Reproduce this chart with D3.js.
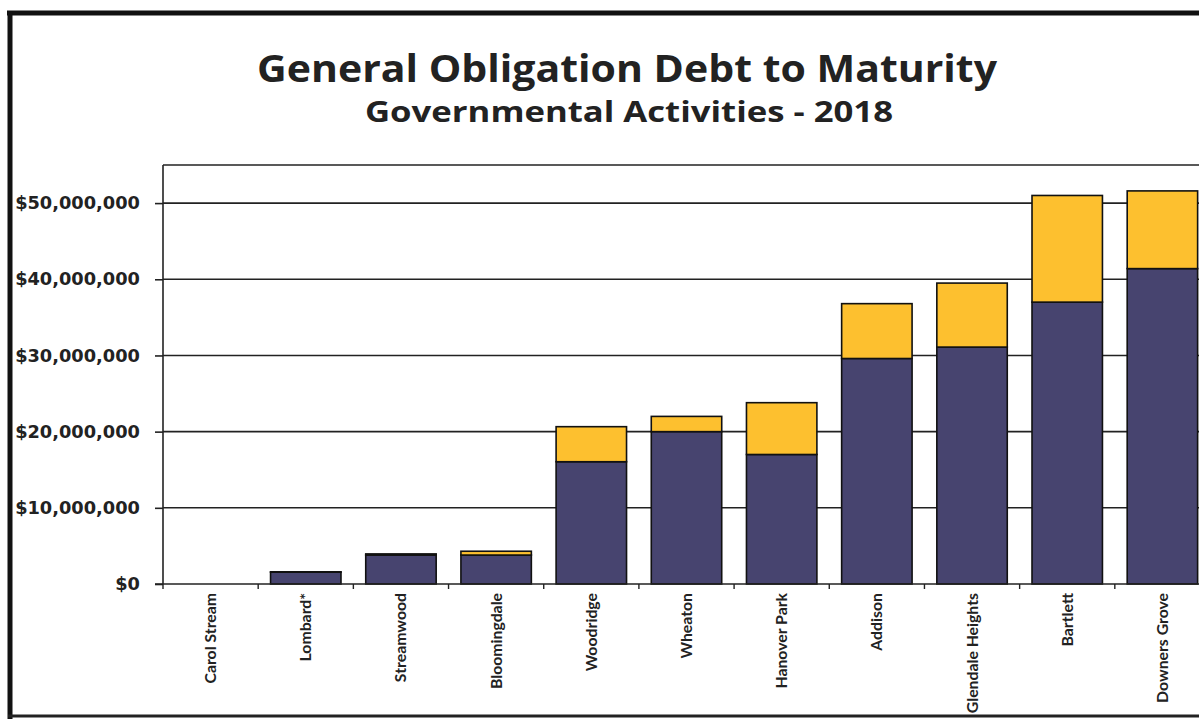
<!DOCTYPE html>
<html>
<head>
<meta charset="utf-8">
<script src="https://cdn.jsdelivr.net/npm/d3@7"></script>
<style>
  html, body { margin: 0; padding: 0; background: #fff; }
  svg { display: block; }
</style>
</head>
<body>
<svg id="chart" width="1199" height="719"></svg>
<script>
// ---- data (values in dollars) ----
const categories = ["Carol Stream", "Lombard*", "Streamwood", "Bloomingdale", "Woodridge", "Wheaton",
                    "Hanover Park", "Addison", "Glendale Heights", "Bartlett", "Downers Grove"];
const principal = [0, 1550000, 3800000, 3800000, 16050000, 20000000, 17000000, 29600000, 31100000, 37000000, 41400000];
const interest  = [0, 50000, 150000, 500000, 4600000, 2000000, 6800000, 7200000, 8400000, 14000000, 10200000];
const yTicks = [0, 10000000, 20000000, 30000000, 40000000, 50000000];
const seriesNames = ["principal", "interest"];
const seriesColors = ["#47446f", "#fdc02f"];
const titleText = "General Obligation Debt to Maturity";
const subtitleText = "Governmental Activities - 2018";

(function () {
const svg = d3.select("#chart");
const W = 1199, H = 719;

// outer frame
svg.append("line").attr("x1", 7).attr("x2", W).attr("y1", 13).attr("y2", 13)
  .attr("stroke", "#111").attr("stroke-width", 5);
svg.append("line").attr("x1", 10).attr("x2", 10).attr("y1", 11).attr("y2", H)
  .attr("stroke", "#111").attr("stroke-width", 5);
svg.append("line").attr("x1", 8).attr("x2", W).attr("y1", 716).attr("y2", 716)
  .attr("stroke", "#222").attr("stroke-width", 3);

// titles
svg.append("text").attr("x", 627).attr("y", 82).attr("text-anchor", "middle")
  .attr("font-family", "Open Sans, sans-serif").attr("font-weight", "bold").attr("font-size", 38)
  .attr("fill", "#222").attr("textLength", 740).attr("lengthAdjust", "spacingAndGlyphs")
  .text(titleText);
svg.append("text").attr("x", 629).attr("y", 122).attr("text-anchor", "middle")
  .attr("font-family", "Open Sans, sans-serif").attr("font-weight", "bold").attr("font-size", 29)
  .attr("fill", "#222").attr("textLength", 528).attr("lengthAdjust", "spacingAndGlyphs")
  .text(subtitleText);

// scales
const pLeft = 163, pRight = 1210, pTop = 165, pBottom = 584;
const x = d3.scaleBand().domain(categories).range([pLeft, pRight]).paddingInner(0.26).paddingOuter(0.13);
const y = d3.scaleLinear().domain([0, 55000000]).range([pBottom, pTop]);

// gridlines
const g = svg.append("g");
g.selectAll("line.grid").data(yTicks.filter(d => d > 0)).join("line")
  .attr("class", "grid")
  .attr("x1", pLeft).attr("x2", W).attr("y1", d => y(d)).attr("y2", d => y(d))
  .attr("stroke", "#222").attr("stroke-width", 1.6);
// plot top border
g.append("line").attr("x1", pLeft).attr("x2", W).attr("y1", pTop).attr("y2", pTop)
  .attr("stroke", "#222").attr("stroke-width", 1.6);

// stacked bars
const rows = categories.map((c, i) => ({ cat: c, principal: principal[i], interest: interest[i] }));
const stack = d3.stack().keys(seriesNames)(rows);
stack.forEach((layer, li) => {
  g.append("g").selectAll("rect").data(layer).join("rect")
    .attr("x", d => x(d.data.cat))
    .attr("width", x.bandwidth())
    .attr("y", d => y(d[1]))
    .attr("height", d => Math.max(0, y(d[0]) - y(d[1])))
    .attr("fill", seriesColors[li])
    .attr("stroke", d => (d[1] - d[0]) > 0 ? "#111" : "none")
    .attr("stroke-width", 1.6);
});

// y axis
const yAxis = d3.axisLeft(y).tickValues(yTicks).tickSize(8).tickPadding(14)
  .tickFormat(d => "$" + d3.format(",")(d));
const ya = svg.append("g").attr("transform", `translate(${pLeft},0)`).call(yAxis);
ya.select(".domain").attr("stroke", "#222").attr("stroke-width", 1.6)
  .attr("d", `M0,${pTop}V${pBottom}`);
ya.selectAll(".tick line").attr("stroke", "#222").attr("stroke-width", 1.6);
ya.selectAll(".tick text").attr("font-family", "DejaVu Sans, sans-serif").attr("font-weight", "bold")
  .attr("font-size", 17.8).attr("fill", "#222").attr("x", -23);

// x axis
const xa = svg.append("g").attr("transform", `translate(0,${pBottom})`);
xa.append("line").attr("x1", pLeft - 8).attr("x2", W).attr("y1", 0).attr("y2", 0)
  .attr("stroke", "#222").attr("stroke-width", 1.6);
const boundaries = categories.map(c => x(c) - x.step() * x.paddingInner() / 2);
xa.selectAll("line.tk").data(boundaries).join("line").attr("class", "tk")
  .attr("x1", d => d).attr("x2", d => d).attr("y1", 0).attr("y2", 5)
  .attr("stroke", "#222").attr("stroke-width", 1.4);
xa.selectAll("text.lbl").data(categories).join("text").attr("class", "lbl")
  .attr("transform", d => `translate(${x(d) + x.bandwidth() / 2},9) rotate(-90)`)
  .attr("text-anchor", "end").attr("dy", "0.35em")
  .attr("font-family", "Lato, sans-serif").attr("font-weight", "bold").attr("font-size", 15.8)
  .attr("fill", "#222")
  .text(d => d);
})();
</script>
</body>
</html>
